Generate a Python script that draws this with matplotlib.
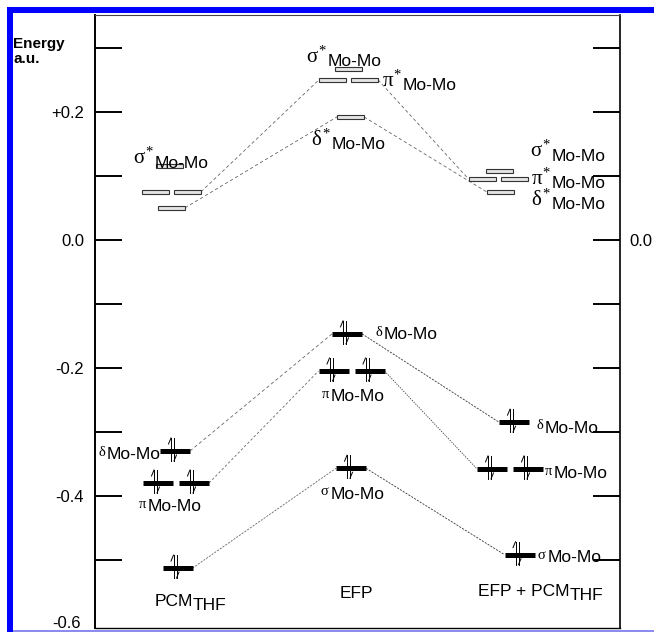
import matplotlib
matplotlib.use('Agg')
import matplotlib.pyplot as plt
from matplotlib.patches import Rectangle

plt.rcParams['font.family'] = ['Liberation Sans', 'DejaVu Sans']
# upright serif greek, like the Symbol font of the original
plt.rcParams['mathtext.fontset'] = 'custom'
plt.rcParams['mathtext.rm'] = 'Liberation Serif'
plt.rcParams['mathtext.it'] = 'Liberation Serif'

# Orbital energies (a.u.) for each model: PCM_THF, EFP, EFP + PCM_THF
models = ['PCM', 'EFP', 'EFP + PCM']
model_subs = ['THF', '', 'THF']
sigma_star = [0.115, 0.267, 0.107]
pi_star = [0.075, 0.250, 0.095]
delta_star = [0.050, 0.192, 0.075]
delta = [-0.330, -0.147, -0.285]
pi = [-0.380, -0.205, -0.358]
sigma = [-0.513, -0.357, -0.492]

yticks = [0.3, 0.2, 0.1, 0.0, -0.1, -0.2, -0.3, -0.4, -0.5]
ytick_labels = ['', '+0.2', '', '0.0', '', '-0.2', '', '-0.4', '']

# layout (horizontal positions in axes pixel units)
x_sigma_star = [169, 348, 499]
x_pi_star = [171.5, 348.5, 498]
x_delta_star = [171.5, 350.5, 500]
x_delta = [175, 347, 514]
x_pi = [176, 351.5, 510]
x_sigma = [177.5, 351, 519.5]

W, H = 654, 632
fig = plt.figure(figsize=(W / 100, H / 100), dpi=100)
ax = fig.add_axes([95 / W, 1 - 628 / H, (620 - 95) / W, (628 - 15) / H])
ytop, ybot = 0.35125, -0.6066
ax.set_xlim(95, 620)
ax.set_ylim(ybot, ytop)
PY = (ytop - ybot) / (628 - 15)   # energy per pixel


def hollow(xc, E, w=27):
    ax.add_patch(Rectangle((xc - w / 2, E - 2 * PY), w, 4 * PY,
                           fc='#e4e4e4', ec='#333333', lw=0.8, zorder=3))


def spins(x, E):
    top = E + 13 * PY
    bot = E - 10 * PY
    kw = dict(color='black', lw=0.7, zorder=4)
    ax.plot([x - 1.5, x - 1.5], [bot, top], **kw)
    ax.plot([x - 1.5, x - 4], [top, top - 6 * PY], **kw)
    ax.plot([x + 1.5, x + 1.5], [top, bot], **kw)
    ax.plot([x + 1.5, x + 4], [bot, bot + 6 * PY], **kw)


def filled(xc, E, w=30):
    ax.plot([xc - w / 2, xc + w / 2], [E, E], color='black', lw=3.6,
            solid_capstyle='butt', zorder=3)
    spins(xc - 2.5, E)


def level(xc, E, kind, pair=False):
    w = 27 if kind == 'empty' else 30
    gap = 5 if kind == 'empty' else 6
    draw = hollow if kind == 'empty' else filled
    if pair:
        draw(xc - gap / 2 - w / 2, E, w)
        draw(xc + gap / 2 + w / 2, E, w)
        half = gap / 2 + w
    else:
        draw(xc, E, w)
        half = w / 2
    return xc - half, xc + half


def connect(a, b, Ea, Eb, dashes=(4, 3), color='#666666'):
    ax.plot([a, b], [Ea, Eb], color=color, lw=0.6, ls=(0, dashes), zorder=2)


ends = {}
for name, xs, Es, kind, pair in [
        ('ss', x_sigma_star, sigma_star, 'empty', False),
        ('ps', x_pi_star, pi_star, 'empty', True),
        ('ds', x_delta_star, delta_star, 'empty', False),
        ('d', x_delta, delta, 'full', False),
        ('p', x_pi, pi, 'full', True),
        ('s', x_sigma, sigma, 'full', False)]:
    ends[name] = [level(x, e, kind, pair) for x, e in zip(xs, Es)]

for name, Es, d1, d2 in [('ps', pi_star, (4, 3), (4, 3)),
                         ('ds', delta_star, (4, 3), (4, 3)),
                         ('d', delta, (4, 3), (2.5, 1.5)),
                         ('p', pi, (3, 2.5), (1.5, 1.5)),
                         ('s', sigma, (2.5, 1.5), (2.5, 1.5))]:
    e = ends[name]
    connect(e[0][1], e[1][0], Es[0], Es[1], d1)
    connect(e[1][1], e[2][0], Es[1], Es[2], d2,
            color='#333333' if name in ('d', 'p', 's') else '#666666')


# labels: (junction x, level energy, Mo-Mo centre offset in px (down +), greek, occupied)
labels = [
    (154, sigma_star[0], -3, r'$\sigma^{*}$', False),
    (327, sigma_star[1], -7, r'$\sigma^{*}$', False),
    (402, pi_star[1], 6, r'$\pi^{*}$', False),
    (331, delta_star[1], 28, r'$\delta^{*}$', False),
    (551, sigma_star[2], -15, r'$\sigma^{*}$', False),
    (551, pi_star[2], 5, r'$\pi^{*}$', False),
    (551, delta_star[2], 13, r'$\delta^{*}$', False),
    (106, delta[0], 4, r'$\delta$', True),
    (147, pi[0], 24, r'$\pi$', True),
    (383, delta[1], 1, r'$\delta$', True),
    (330, pi[1], 26, r'$\pi$', True),
    (330, sigma[1], 26, r'$\sigma$', True),
    (544, delta[2], 6, r'$\delta$', True),
    (553, pi[2], 5, r'$\pi$', True),
    (547, sigma[2], 3, r'$\sigma$', True),
]
for xj, E, dy, greek, occ in labels:
    ax.annotate('Mo-Mo', (xj, E), xytext=(1, -dy), textcoords='offset pixels',
                ha='left', va='center', fontsize=12.5, zorder=5)
    if occ:
        ax.annotate(greek, (xj, E), xytext=(0, -dy + 3), textcoords='offset pixels',
                    ha='right', va='center', fontsize=10.5, zorder=5)
    else:
        ax.annotate(greek, (xj, E), xytext=(0, -dy + 6), textcoords='offset pixels',
                    ha='right', va='center', fontsize=15, zorder=5)

# model names under each column
tr = ax.get_xaxis_transform()
name_x = [193, 356.5, 570]
name_y = [601, 593, 591]
for m, sub, xn, yn in zip(models, model_subs, name_x, name_y):
    ya = (628 - yn) / 613
    if sub:
        ax.text(xn, ya, m, transform=tr, ha='right', va='center', fontsize=12.5)
        ax.text(xn, ya - 5 / 613, sub, transform=tr, ha='left', va='center', fontsize=12.5)
    else:
        ax.text(xn, ya, m, transform=tr, ha='center', va='center', fontsize=12.5)

ax.set_xticks([])
ax.set_yticks(yticks)
ax.set_yticklabels(ytick_labels)
ax.tick_params(axis='y', direction='in', length=19.5, width=1.4, pad=8,
               labelsize=12, right=True)
ax.spines['left'].set_linewidth(1.4)
ax.spines['right'].set_linewidth(1.2)
ax.spines['bottom'].set_linewidth(1.0)
ax.spines['top'].set_linewidth(0.8)
ax.spines['top'].set_color('#444444')

fig.text(81 / W, 1 - 623 / H, '-0.6', ha='right', va='center', fontsize=12)
fig.text(629 / W, 1 - 241 / H, '0.0', ha='left', va='center', fontsize=12)
fig.text(13 / W, 1 - 44 / H, 'Energy', ha='left', va='center', fontsize=11, fontweight='bold')
fig.text(13 / W, 1 - 59 / H, 'a.u.', ha='left', va='center', fontsize=11, fontweight='bold')

# blue frame from the page
fig.add_artist(Rectangle((7 / W, 0), 6 / W, 1 - 7 / H, transform=fig.transFigure,
                         color='#0000ff', lw=0))
fig.add_artist(Rectangle((7 / W, 1 - 13 / H), 1 - 7 / W, 6 / H, transform=fig.transFigure,
                         color='#0000ff', lw=0))
fig.add_artist(Rectangle((13 / W, 0), 1 - 13 / W, 2 / H, transform=fig.transFigure,
                         color='#8c8cf0', lw=0))

fig.savefig('out.png', dpi=100)
